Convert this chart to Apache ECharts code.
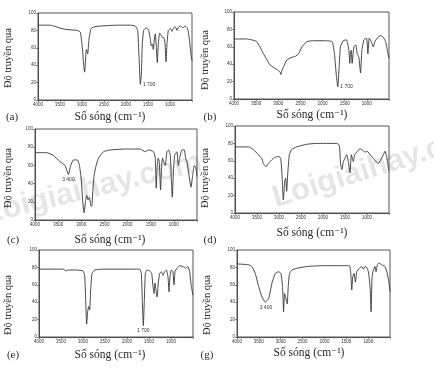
<!DOCTYPE html>
<html><head><meta charset="utf-8">
<script src="https://cdn.jsdelivr.net/npm/echarts@6/dist/echarts.min.js"></script>
<style>html,body{margin:0;padding:0;background:#fff}#c{width:434px;height:373px}</style>
</head><body><div id="c"></div>
<script>
// Wavenumber ticks / transmittance ticks
const xTicks = [4000, 3500, 3000, 2500, 2000, 1500, 1000];
const yTicks = [0, 20, 40, 60, 80, 100];
const panelTags = ['(a)', '(b)', '(c)', '(d)', '(e)', '(g)'];
const xTitle = 'Số sóng (cm⁻¹)';
const yTitle = 'Độ truyền qua';

// spectra: [wavenumber, transmittance %]
const specA = [[4000,86],[3720,86],[3455,82],[3341,81],[3114,80],[3038,78],[2992,60],[2962,40],[2939,32],[2916,50],[2901,58],[2871,53],[2841,70],[2795,82],[2735,84],[2583,85],[2200,86],[1900,86],[1788,85],[1735,80],[1704,50],[1674,18],[1651,30],[1629,65],[1598,80],[1538,83],[1485,80],[1447,70],[1424,62],[1401,64],[1379,58],[1356,70],[1333,76],[1311,60],[1288,43],[1265,65],[1235,77],[1205,75],[1174,72],[1144,72],[1114,65],[1091,44],[1068,65],[1038,80],[992,82],[955,79],[917,83],[879,84],[841,80],[803,84],[765,85],[704,83],[651,85],[598,82],[561,70],[523,52],[500,45]];
const specB = [[4000,69],[3713,69],[3486,66],[3335,52],[3184,39],[3032,34],[2960,31],[2942,28],[2925,32],[2881,37],[2806,45],[2692,48],[2617,49],[2541,52],[2465,60],[2352,66],[2201,67],[1974,67],[1785,66],[1732,52],[1687,26],[1657,14],[1626,37],[1596,60],[1536,67],[1460,68],[1407,56],[1385,41],[1370,52],[1354,56],[1332,41],[1294,60],[1248,62],[1218,52],[1180,48],[1143,30],[1112,56],[1067,68],[1007,70],[976,52],[946,70],[901,66],[855,60],[818,66],[765,70],[689,73],[629,71],[576,66],[523,52],[500,47]];
const specC = [[4000,74],[3747,74],[3603,71],[3459,64],[3351,60],[3278,50],[3228,60],[3170,66],[3084,66],[3040,60],[3004,46],[2968,20],[2939,8],[2910,20],[2882,27],[2853,22],[2824,25],[2795,16],[2773,15],[2752,31],[2723,49],[2679,60],[2629,68],[2521,75],[2376,77],[2016,78],[1727,78],[1619,75],[1547,77],[1438,75],[1402,68],[1381,35],[1359,60],[1337,68],[1316,64],[1287,33],[1265,60],[1243,68],[1222,64],[1186,60],[1150,75],[1114,77],[1077,71],[1056,46],[1034,25],[1013,49],[984,71],[933,75],[904,60],[875,68],[825,77],[774,77],[746,68],[717,64],[673,49],[630,36],[594,49],[558,60],[529,58],[500,48]];
const specD = [[4000,76],[3697,76],[3583,73],[3470,67],[3394,63],[3356,57],[3295,53],[3242,57],[3167,61],[3091,64],[3015,65],[2962,63],[2932,44],[2902,15],[2871,36],[2848,40],[2826,25],[2803,44],[2765,67],[2712,73],[2598,76],[2371,79],[2144,80],[1689,80],[1629,78],[1598,55],[1568,50],[1538,59],[1500,63],[1462,67],[1424,59],[1386,46],[1356,67],[1311,59],[1280,67],[1235,70],[1159,74],[1098,72],[1045,70],[992,71],[932,67],[856,63],[795,59],[742,57],[689,61],[629,67],[591,71],[553,65],[515,52],[500,48]];
const specE = [[4000,78],[3455,78],[3379,76],[3341,77],[3151,77],[3000,76],[2962,71],[2939,42],[2917,15],[2894,29],[2871,35],[2848,31],[2826,54],[2795,73],[2735,77],[2545,78],[1864,78],[1712,78],[1674,73],[1652,42],[1629,13],[1606,42],[1583,73],[1545,77],[1485,76],[1439,73],[1409,58],[1386,50],[1364,62],[1341,54],[1318,46],[1288,62],[1258,73],[1220,75],[1182,71],[1144,75],[1106,77],[1068,69],[1045,52],[1023,69],[992,77],[955,75],[932,60],[909,75],[864,79],[803,82],[727,81],[667,79],[614,81],[576,75],[538,58],[500,48]];
const specG = [[4000,84],[3734,83],[3658,81],[3582,73],[3505,58],[3429,46],[3353,40],[3338,40],[3277,44],[3201,62],[3125,73],[3049,75],[2996,73],[2958,58],[2935,29],[2912,50],[2881,44],[2851,38],[2828,58],[2798,73],[2745,77],[2630,79],[2402,81],[2022,82],[1565,82],[1428,82],[1398,73],[1375,54],[1352,69],[1322,73],[1291,63],[1261,75],[1200,79],[1147,81],[1109,78],[1071,81],[1033,80],[994,75],[956,58],[933,29],[910,69],[880,77],[842,81],[819,75],[789,83],[751,85],[690,83],[614,81],[561,73],[523,62],[500,52]];

// peak annotations
const peakLabels = ['1 700', '1 700', '3 400', null, '1 700', '3 400'];
const peakCoords = [[1674,18],[1657,14],[3278,50],null,[1629,13],[3338,40]];
const peakPos = ['right', 'right', 'bottom', null, 'bottom', 'bottom'];

const spectra = [specA, specB, specC, specD, specE, specG];

// layout (px)
const grids = [
  {left:38, top:13, width:154, height:87},
  {left:234, top:12, width:155, height:87},
  {left:35, top:129, width:162, height:91},
  {left:235, top:126, width:154, height:87},
  {left:39, top:250, width:154, height:87},
  {left:237, top:250, width:153, height:87}
];
const xTitlePos = [[110,117],[312,115],[110,240],[312,233],[110,355],[309,353]];
const yTitlePos = [[8,58],[205,60],[8,178],[205,178],[8,305],[207,305]];
const tagPos = [[12,117],[210,117],[13,240],[210,240],[13,355],[207,355]];

const serif = "'Liberation Serif','DejaVu Serif',serif";
const ink = '#2a2a2a';

const option = {
  backgroundColor: '#ffffff',
  animation: false,
  grid: grids.map(g => Object.assign({show:true, borderColor:'#444', borderWidth:0.9, backgroundColor:'transparent'}, g)),
  xAxis: grids.map((g,i) => ({
    gridIndex:i, type:'value', min:500, max:4000, interval:500, inverse:true,
    axisLine:{show:true, lineStyle:{color:'#444', width:0.9}},
    axisTick:{show:true, length:2, lineStyle:{color:'#444', width:0.6}},
    minorTick:{show:true, splitNumber:5, length:1.5, lineStyle:{color:'#666', width:0.5}},
    splitLine:{show:false},
    axisLabel:{fontSize:4.5, color:'#333', margin:2, showMinLabel:false,
      formatter: v => xTicks.indexOf(v) >= 0 ? String(v) : ''}
  })),
  yAxis: grids.map((g,i) => ({
    gridIndex:i, type:'value', min:0, max:100, interval:20,
    axisLine:{show:true, lineStyle:{color:'#444', width:0.9}},
    axisTick:{show:true, length:2, lineStyle:{color:'#444', width:0.6}},
    splitLine:{show:false},
    axisLabel:{fontSize:4.5, color:'#333', margin:2,
      formatter: v => yTicks.indexOf(v) >= 0 ? String(v) : ''}
  })),
  series: spectra.map((s,i) => ({
    type:'line', xAxisIndex:i, yAxisIndex:i, data:s, showSymbol:false, symbol:'none',
    lineStyle:{color:'#333', width:0.9}, smooth:0.15,
    markPoint: peakLabels[i] ? {
      symbol:'circle', symbolSize:1, itemStyle:{color:'rgba(0,0,0,0)'},
      label:{show:true, formatter:peakLabels[i], position:peakPos[i], distance:2, fontSize:5, color:'#333'},
      data:[{coord:peakCoords[i]}]
    } : undefined
  })),
  graphic: [].concat(
    xTitlePos.map(p => ({type:'text', x:p[0], y:p[1], style:{text:xTitle, font:'11.5px '+serif, fill:ink, textAlign:'center', textVerticalAlign:'middle'}})),
    yTitlePos.map(p => ({type:'text', x:p[0], y:p[1], rotation:Math.PI/2, style:{text:yTitle, font:'10.5px '+serif, fill:ink, textAlign:'center', textVerticalAlign:'middle'}})),
    tagPos.map((p,i) => ({type:'text', x:p[0], y:p[1], style:{text:panelTags[i], font:'11px '+serif, fill:ink, textAlign:'center', textVerticalAlign:'middle'}})),
    [
      {type:'text', x:-12, y:230, rotation:0.24, z:-1, style:{text:'Loigiaihay.com', font:'bold 31px "Liberation Sans",sans-serif', fill:'rgba(0,0,0,0.10)', textAlign:'left', textVerticalAlign:'bottom'}},
      {type:'text', x:278, y:214, rotation:0.3, z:-1, style:{text:'Loigiaihay.com', font:'bold 31px "Liberation Sans",sans-serif', fill:'rgba(0,0,0,0.10)', textAlign:'left', textVerticalAlign:'bottom'}}
    ]
  )
};
echarts.init(document.getElementById('c'), null, {renderer:'canvas'}).setOption(option);
</script></body></html>
